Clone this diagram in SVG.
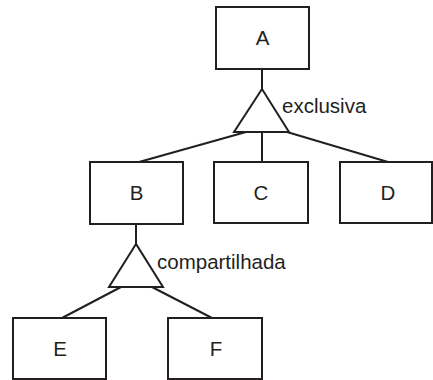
<svg xmlns="http://www.w3.org/2000/svg" width="433" height="380" viewBox="0 0 433 380">
<style>
.box{fill:#fff;stroke:#231f20;stroke-width:2}
.tri{fill:#fff;stroke:#231f20;stroke-width:2;stroke-linejoin:miter}
.ln{stroke:#231f20;stroke-width:2;fill:none}
.t{font-family:"Liberation Sans",Arial,sans-serif;font-size:20.5px;fill:#231f20}
.c{text-anchor:middle}
</style>
<rect width="433" height="380" fill="#fff"/>
<g id="connectors">
<line class="ln" x1="262" y1="69" x2="262" y2="89"/>
<line class="ln" x1="246" y1="132" x2="139" y2="162"/>
<line class="ln" x1="262" y1="132" x2="262" y2="162"/>
<line class="ln" x1="287" y1="132" x2="388" y2="162"/>
<line class="ln" x1="136" y1="224" x2="136" y2="244"/>
<line class="ln" x1="121" y1="287" x2="62" y2="318"/>
<line class="ln" x1="152" y1="287" x2="212" y2="318"/>
</g>
<g id="exclusiva">
<polygon class="tri" points="262,89 234,132 289,132"/>
<text class="t" x="282" y="113">exclusiva</text>
</g>
<g id="compartilhada">
<polygon class="tri" points="136,244 109,287 163,287"/>
<text class="t" x="157" y="269">compartilhada</text>
</g>
<g id="A"><rect class="box" x="216" y="7" width="93" height="62"/><text class="t c" x="262.5" y="45">A</text></g>
<g id="B"><rect class="box" x="90" y="162" width="93" height="62"/><text class="t c" x="136.5" y="200">B</text></g>
<g id="C"><rect class="box" x="214" y="162" width="94" height="61"/><text class="t c" x="261" y="200">C</text></g>
<g id="D"><rect class="box" x="340" y="162" width="92" height="61"/><text class="t c" x="388" y="200">D</text></g>
<g id="E"><rect class="box" x="13" y="318" width="93" height="61"/><text class="t c" x="60" y="356">E</text></g>
<g id="F"><rect class="box" x="168" y="318" width="94" height="61"/><text class="t c" x="216" y="356">F</text></g>
</svg>
